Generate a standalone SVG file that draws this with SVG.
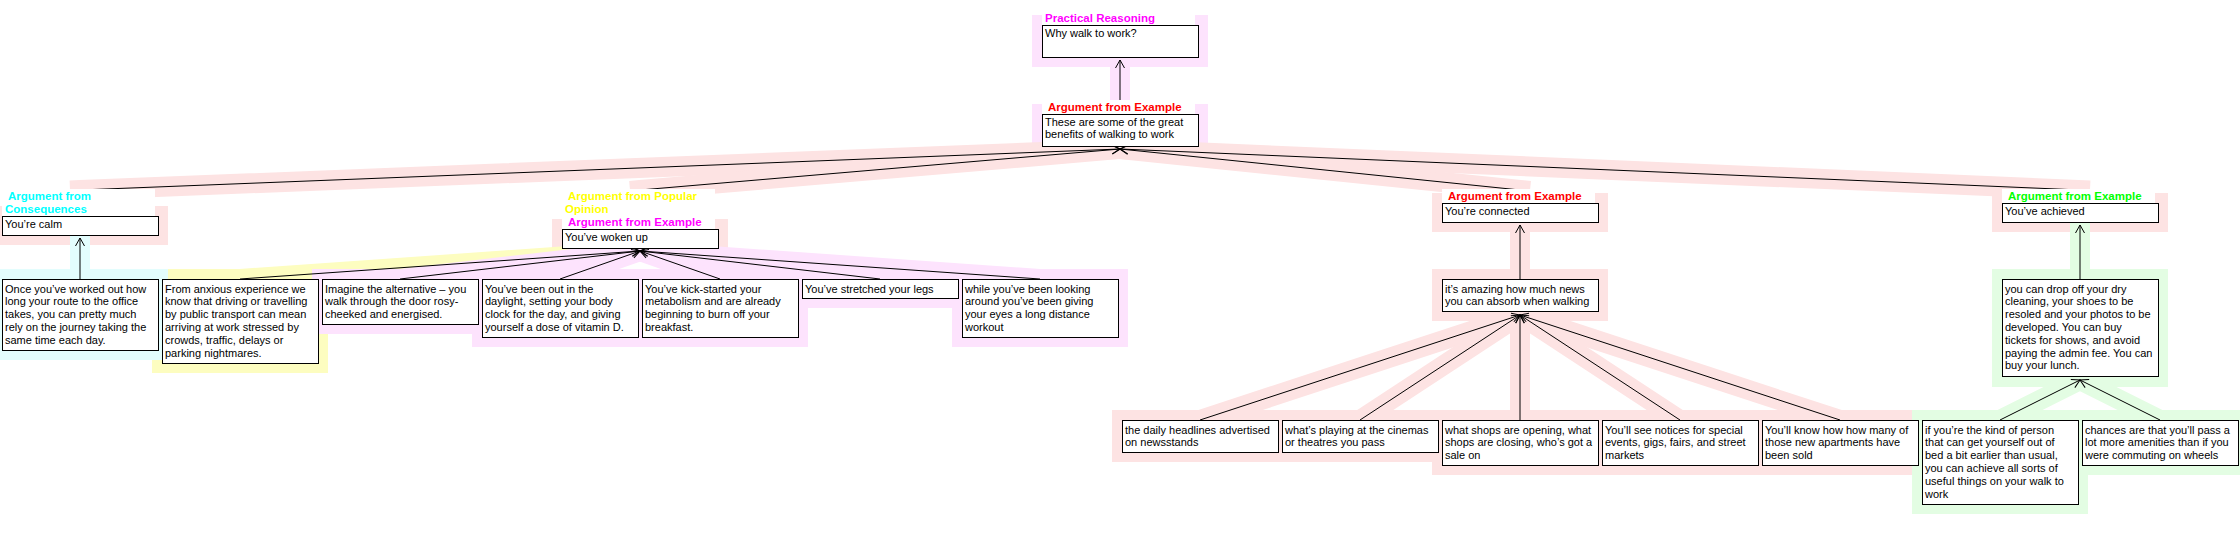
<svg xmlns="http://www.w3.org/2000/svg" width="2240" height="551" viewBox="0 0 2240 551">
<style>
.box{fill:#fff;stroke:#000;stroke-width:1}
.t{font-family:"Liberation Sans",Arial,sans-serif;font-size:11px;fill:#000}
.lbl{font-family:"Liberation Sans",Arial,sans-serif;font-size:11.5px;font-weight:bold}
.lbg{fill:#fff}
.edge{stroke:#000;stroke-width:1;fill:none;marker-end:url(#arr)}
.band{stroke-width:20;stroke-linecap:square;fill:none}
.hm{fill:#FDE3FD}.hr{fill:#FDE3E3}.hc{fill:#E3FDFD}.hy{fill:#FDFDC0}.hg{fill:#E3FDE3}
.bm{stroke:#FDE3FD}.br{stroke:#FDE3E3}.bc{stroke:#E3FDFD}.by{stroke:#FDFDC0}.bg{stroke:#E3FDE3}
.cm{fill:#FF00FF}.cr{fill:#FF0000}.cc{fill:#00FFFF}.cy{fill:#FFFF00}.cg{fill:#00FF00}
</style>
<defs>
<marker id="arr" markerUnits="userSpaceOnUse" markerWidth="12" markerHeight="12" refX="10" refY="6" orient="auto" overflow="visible">
<path d="M2,1.5 L10,6 L2,10.5" fill="none" stroke="#000" stroke-width="1"/>
</marker>
</defs>
<rect width="2240" height="551" fill="#fff"/>
<g id="halos">
<g>
<line class="band bm" x1="1120" y1="101" x2="1120" y2="60"/>
<rect class="hm" x="1032" y="15" width="176" height="52"/>
<rect class="hm" x="1032" y="104" width="176" height="52"/>
</g>
<g>
<line class="band br" x1="80" y1="190" x2="1120" y2="149"/>
<line class="band br" x1="640" y1="190" x2="1120" y2="149"/>
<line class="band br" x1="1520" y1="190" x2="1120" y2="149"/>
<line class="band br" x1="2080" y1="190" x2="1120" y2="149"/>
<rect class="hr" x="-8" y="206" width="176" height="39"/>
<rect class="hr" x="552" y="219" width="176" height="39"/>
<rect class="hr" x="1432" y="193" width="176" height="39"/>
<rect class="hr" x="1992" y="193" width="176" height="39"/>
</g>
<g>
<line class="band by" x1="240" y1="279" x2="640" y2="251"/>
<rect class="hy" x="152" y="269" width="176" height="104"/>
</g>
<g>
<line class="band bc" x1="80" y1="279" x2="80" y2="238"/>
<rect class="hc" x="-8" y="269" width="176" height="91"/>
</g>
<g>
<line class="band bm" x1="400" y1="279" x2="640" y2="251"/>
<line class="band bm" x1="560" y1="279" x2="640" y2="251"/>
<line class="band bm" x1="720" y1="279" x2="640" y2="251"/>
<line class="band bm" x1="880" y1="279" x2="640" y2="251"/>
<line class="band bm" x1="1040" y1="279" x2="640" y2="251"/>
<rect class="hm" x="312" y="269" width="176" height="65"/>
<rect class="hm" x="472" y="269" width="176" height="78"/>
<rect class="hm" x="632" y="269" width="176" height="78"/>
<rect class="hm" x="792" y="269" width="176" height="39"/>
<rect class="hm" x="952" y="269" width="176" height="78"/>
</g>
<g>
<line class="band br" x1="1520" y1="279" x2="1520" y2="225"/>
<line class="band br" x1="1200" y1="420" x2="1520" y2="315"/>
<line class="band br" x1="1360" y1="420" x2="1520" y2="315"/>
<line class="band br" x1="1520" y1="420" x2="1520" y2="315"/>
<line class="band br" x1="1680" y1="420" x2="1520" y2="315"/>
<line class="band br" x1="1840" y1="420" x2="1520" y2="315"/>
<rect class="hr" x="1432" y="269" width="176" height="52"/>
<rect class="hr" x="1112" y="410" width="176" height="52"/>
<rect class="hr" x="1272" y="410" width="176" height="52"/>
<rect class="hr" x="1432" y="410" width="176" height="65"/>
<rect class="hr" x="1592" y="410" width="176" height="65"/>
<rect class="hr" x="1752" y="410" width="176" height="65"/>
</g>
<g>
<line class="band bg" x1="2080" y1="279" x2="2080" y2="225"/>
<line class="band bg" x1="2000" y1="420" x2="2080" y2="380"/>
<line class="band bg" x1="2160" y1="420" x2="2080" y2="380"/>
<rect class="hg" x="1992" y="269" width="176" height="118"/>
<rect class="hg" x="1912" y="410" width="176" height="104"/>
<rect class="hg" x="2072" y="410" width="176" height="65"/>
</g>
</g>
<g id="connectors">
<line class="edge" x1="1120" y1="101" x2="1120" y2="60"/>
<line class="edge" x1="80" y1="190" x2="1120" y2="149"/>
<line class="edge" x1="640" y1="190" x2="1120" y2="149"/>
<line class="edge" x1="1520" y1="190" x2="1120" y2="149"/>
<line class="edge" x1="2080" y1="190" x2="1120" y2="149"/>
<line class="edge" x1="80" y1="279" x2="80" y2="238"/>
<line class="edge" x1="240" y1="279" x2="640" y2="251"/>
<line class="edge" x1="400" y1="279" x2="640" y2="251"/>
<line class="edge" x1="560" y1="279" x2="640" y2="251"/>
<line class="edge" x1="720" y1="279" x2="640" y2="251"/>
<line class="edge" x1="880" y1="279" x2="640" y2="251"/>
<line class="edge" x1="1040" y1="279" x2="640" y2="251"/>
<line class="edge" x1="1520" y1="279" x2="1520" y2="225"/>
<line class="edge" x1="1200" y1="420" x2="1520" y2="315"/>
<line class="edge" x1="1360" y1="420" x2="1520" y2="315"/>
<line class="edge" x1="1520" y1="420" x2="1520" y2="315"/>
<line class="edge" x1="1680" y1="420" x2="1520" y2="315"/>
<line class="edge" x1="1840" y1="420" x2="1520" y2="315"/>
<line class="edge" x1="2080" y1="279" x2="2080" y2="225"/>
<line class="edge" x1="2000" y1="420" x2="2080" y2="380"/>
<line class="edge" x1="2160" y1="420" x2="2080" y2="380"/>
</g>
<g id="n-top">
<rect class="lbg" x="1042" y="11" width="153" height="14"/>
<text class="lbl cm" x="1045" y="22">Practical Reasoning</text>
<rect class="box" x="1042.5" y="25.5" width="156" height="32"/>
<text class="t" x="1045" y="37">Why walk to work?</text>
</g>
<g id="n-benefits">
<rect class="lbg" x="1042" y="100" width="153" height="14"/>
<text class="lbl cr" x="1048" y="111">Argument from Example</text>
<rect class="box" x="1042.5" y="114.5" width="156" height="32"/>
<text class="t" y="125.5"><tspan x="1045">These are some of the great</tspan><tspan x="1045" dy="12.8">benefits of walking to work</tspan></text>
</g>
<g id="n-calm">
<rect class="lbg" x="2" y="189" width="153" height="27"/>
<text class="lbl cc" x="8" y="200">Argument from</text>
<text class="lbl cc" x="5" y="213">Consequences</text>
<rect class="box" x="2.5" y="216.5" width="156" height="19"/>
<text class="t" x="5" y="227.5">You’re calm</text>
</g>
<g id="n-woken">
<rect class="lbg" x="562" y="189" width="153" height="40"/>
<text class="lbl cy" x="568" y="200">Argument from Popular</text>
<text class="lbl cy" x="565" y="213">Opinion</text>
<text class="lbl cm" x="568" y="226">Argument from Example</text>
<rect class="box" x="562.5" y="229.5" width="156" height="19"/>
<text class="t" x="565" y="240.5">You’ve woken up</text>
</g>
<g id="n-connected">
<rect class="lbg" x="1442" y="189" width="153" height="14"/>
<text class="lbl cr" x="1448" y="200">Argument from Example</text>
<rect class="box" x="1442.5" y="203.5" width="156" height="19"/>
<text class="t" x="1445" y="214.5">You’re connected</text>
</g>
<g id="n-achieved">
<rect class="lbg" x="2002" y="189" width="153" height="14"/>
<text class="lbl cg" x="2008" y="200">Argument from Example</text>
<rect class="box" x="2002.5" y="203.5" width="156" height="19"/>
<text class="t" x="2005" y="214.5">You’ve achieved</text>
</g>
<g id="n-once">
<rect class="box" x="2.5" y="279.5" width="156" height="71"/>
<text class="t" y="292.5"><tspan x="5">Once you’ve worked out how</tspan><tspan x="5" dy="12.8">long your route to the office</tspan><tspan x="5" dy="12.8">takes, you can pretty much</tspan><tspan x="5" dy="12.8">rely on the journey taking the</tspan><tspan x="5" dy="12.8">same time each day.</tspan></text>
</g>
<g id="n-anxious">
<rect class="box" x="162.5" y="279.5" width="156" height="84"/>
<text class="t" y="292.5"><tspan x="165">From anxious experience we</tspan><tspan x="165" dy="12.8">know that driving or travelling</tspan><tspan x="165" dy="12.8">by public transport can mean</tspan><tspan x="165" dy="12.8">arriving at work stressed by</tspan><tspan x="165" dy="12.8">crowds, traffic, delays or</tspan><tspan x="165" dy="12.8">parking nightmares.</tspan></text>
</g>
<g id="n-imagine">
<rect class="box" x="322.5" y="279.5" width="156" height="45"/>
<text class="t" y="292.5"><tspan x="325">Imagine the alternative – you</tspan><tspan x="325" dy="12.8">walk through the door rosy-</tspan><tspan x="325" dy="12.8">cheeked and energised.</tspan></text>
</g>
<g id="n-daylight">
<rect class="box" x="482.5" y="279.5" width="156" height="58"/>
<text class="t" y="292.5"><tspan x="485">You’ve been out in the</tspan><tspan x="485" dy="12.8">daylight, setting your body</tspan><tspan x="485" dy="12.8">clock for the day, and giving</tspan><tspan x="485" dy="12.8">yourself a dose of vitamin D.</tspan></text>
</g>
<g id="n-kick">
<rect class="box" x="642.5" y="279.5" width="156" height="58"/>
<text class="t" y="292.5"><tspan x="645">You’ve kick-started your</tspan><tspan x="645" dy="12.8">metabolism and are already</tspan><tspan x="645" dy="12.8">beginning to burn off your</tspan><tspan x="645" dy="12.8">breakfast.</tspan></text>
</g>
<g id="n-stretched">
<rect class="box" x="802.5" y="279.5" width="156" height="19"/>
<text class="t" x="805" y="292.5">You’ve stretched your legs</text>
</g>
<g id="n-while">
<rect class="box" x="962.5" y="279.5" width="156" height="58"/>
<text class="t" y="292.5"><tspan x="965">while you’ve been looking</tspan><tspan x="965" dy="12.8">around you’ve been giving</tspan><tspan x="965" dy="12.8">your eyes a long distance</tspan><tspan x="965" dy="12.8">workout</tspan></text>
</g>
<g id="n-amazing">
<rect class="box" x="1442.5" y="279.5" width="156" height="32"/>
<text class="t" y="292.5"><tspan x="1445">it’s amazing how much news</tspan><tspan x="1445" dy="12.8">you can absorb when walking</tspan></text>
</g>
<g id="n-headlines">
<rect class="box" x="1122.5" y="420.5" width="156" height="32"/>
<text class="t" y="433.5"><tspan x="1125">the daily headlines advertised</tspan><tspan x="1125" dy="12.8">on newsstands</tspan></text>
</g>
<g id="n-playing">
<rect class="box" x="1282.5" y="420.5" width="156" height="32"/>
<text class="t" y="433.5"><tspan x="1285">what’s playing at the cinemas</tspan><tspan x="1285" dy="12.8">or theatres you pass</tspan></text>
</g>
<g id="n-shops">
<rect class="box" x="1442.5" y="420.5" width="156" height="45"/>
<text class="t" y="433.5"><tspan x="1445">what shops are opening, what</tspan><tspan x="1445" dy="12.8">shops are closing, who’s got a</tspan><tspan x="1445" dy="12.8">sale on</tspan></text>
</g>
<g id="n-notices">
<rect class="box" x="1602.5" y="420.5" width="156" height="45"/>
<text class="t" y="433.5"><tspan x="1605">You’ll see notices for special</tspan><tspan x="1605" dy="12.8">events, gigs, fairs, and street</tspan><tspan x="1605" dy="12.8">markets</tspan></text>
</g>
<g id="n-know">
<rect class="box" x="1762.5" y="420.5" width="156" height="45"/>
<text class="t" y="433.5"><tspan x="1765">You’ll know how how many of</tspan><tspan x="1765" dy="12.8">those new apartments have</tspan><tspan x="1765" dy="12.8">been sold</tspan></text>
</g>
<g id="n-dropoff">
<rect class="box" x="2002.5" y="279.5" width="156" height="97"/>
<text class="t" y="292.5"><tspan x="2005">you can drop off your dry</tspan><tspan x="2005" dy="12.8">cleaning, your shoes to be</tspan><tspan x="2005" dy="12.8">resoled and your photos to be</tspan><tspan x="2005" dy="12.8">developed. You can buy</tspan><tspan x="2005" dy="12.8">tickets for shows, and avoid</tspan><tspan x="2005" dy="12.8">paying the admin fee. You can</tspan><tspan x="2005" dy="12.8">buy your lunch.</tspan></text>
</g>
<g id="n-ifyou">
<rect class="box" x="1922.5" y="420.5" width="156" height="84"/>
<text class="t" y="433.5"><tspan x="1925">if you’re the kind of person</tspan><tspan x="1925" dy="12.8">that can get yourself out of</tspan><tspan x="1925" dy="12.8">bed a bit earlier than usual,</tspan><tspan x="1925" dy="12.8">you can achieve all sorts of</tspan><tspan x="1925" dy="12.8">useful things on your walk to</tspan><tspan x="1925" dy="12.8">work</tspan></text>
</g>
<g id="n-chances">
<rect class="box" x="2082.5" y="420.5" width="156" height="45"/>
<text class="t" y="433.5"><tspan x="2085">chances are that you’ll pass a</tspan><tspan x="2085" dy="12.8">lot more amenities than if you</tspan><tspan x="2085" dy="12.8">were commuting on wheels</tspan></text>
</g>
</svg>
